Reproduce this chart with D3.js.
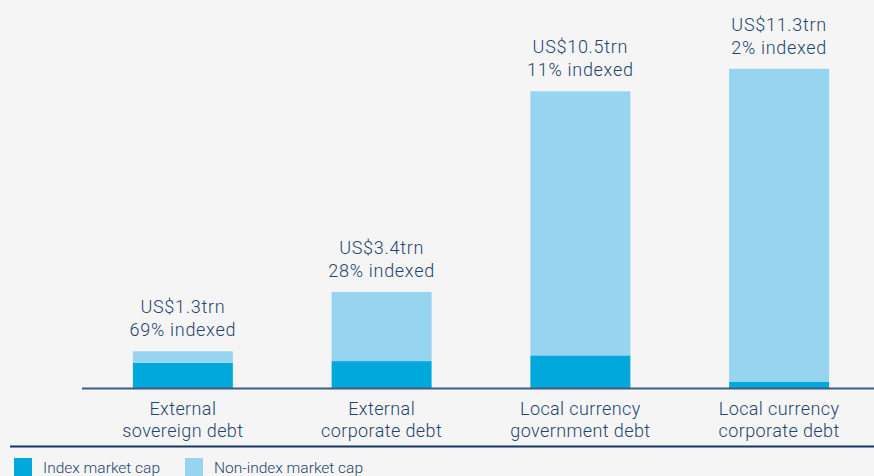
<!DOCTYPE html>
<html>
<head>
<meta charset="utf-8">
<script src="https://cdn.jsdelivr.net/npm/d3@7"></script>
<style>
  html, body { margin: 0; padding: 0; background: #f5f5f5; }
  svg { display: block; font-family: Roboto, "Open Sans", sans-serif; font-weight: 300; }
</style>
</head>
<body>
<svg id="chart" width="874" height="476"></svg>
<script>
// Debt market size (US$ trillions) and share held in indices
const categories = [
  ["External", "sovereign debt"],
  ["External", "corporate debt"],
  ["Local currency", "government debt"],
  ["Local currency", "corporate debt"]
];
const totalTrn = [1.3, 3.4, 10.5, 11.3];
const indexedPct = [69, 28, 11, 2];
const seriesNames = ["Index market cap", "Non-index market cap"];
const seriesColors = ["#00a8dc", "#97d4f0"];

const W = 874, H = 476;
const textColor = "#1f446e";
const svg = d3.select("#chart");
svg.append("rect").attr("width", W).attr("height", H).attr("fill", "#f5f5f5");

const keys = categories.map((c, i) => i);
const x = d3.scaleBand().domain(keys).range([84, 878]).paddingInner(0.497).paddingOuter(0.246);
const y = d3.scaleLinear().domain([0, 12]).range([388, 49]);

const rows = keys.map(i => {
  const idx = totalTrn[i] * indexedPct[i] / 100;
  return { i, index: idx, nonIndex: totalTrn[i] - idx };
});
const stacked = d3.stack().keys(["index", "nonIndex"])(rows);

svg.append("g").selectAll("g").data(stacked).join("g")
  .attr("fill", (d, k) => seriesColors[k])
  .selectAll("rect").data(d => d).join("rect")
  .attr("x", d => x(d.data.i))
  .attr("width", x.bandwidth())
  .attr("y", d => y(d[1]))
  .attr("height", d => y(d[0]) - y(d[1]));

// value labels above each bar
const lab = svg.append("g").attr("fill", textColor).attr("font-size", 18)
  .attr("letter-spacing", 0.7).attr("text-anchor", "middle");
keys.forEach(i => {
  const cx = x(i) + x.bandwidth() / 2;
  const top = y(totalTrn[i]);
  lab.append("text").attr("x", cx).attr("y", top - 38).text(`US$${totalTrn[i]}trn`);
  lab.append("text").attr("x", cx).attr("y", top - 15).text(`${indexedPct[i]}% indexed`);
});

// baseline axis
svg.append("line").attr("x1", 82).attr("x2", W).attr("y1", 388.5).attr("y2", 388.5)
  .attr("stroke", "#3b5d84").attr("stroke-width", 2);

// category labels
const cat = svg.append("g").attr("fill", textColor).attr("font-size", 18)
  .attr("letter-spacing", 0.4).attr("text-anchor", "middle");
keys.forEach(i => {
  const cx = x(i) + x.bandwidth() / 2;
  categories[i].forEach((line, j) => {
    cat.append("text").attr("x", cx).attr("y", 415 + j * 21.5).text(line);
  });
});

// legend
svg.append("line").attr("x1", 10).attr("x2", W).attr("y1", 446.5).attr("y2", 446.5)
  .attr("stroke", "#17375e").attr("stroke-width", 2);
const legendX = [14, 185];
const lg = svg.append("g");
seriesNames.forEach((name, k) => {
  lg.append("rect").attr("x", legendX[k]).attr("y", 458).attr("width", 18).attr("height", 18)
    .attr("fill", seriesColors[k]);
  lg.append("text").attr("x", legendX[k] + 29).attr("y", 473).attr("font-size", 15.5)
    .attr("fill", textColor).text(name);
});
</script>
</body>
</html>
